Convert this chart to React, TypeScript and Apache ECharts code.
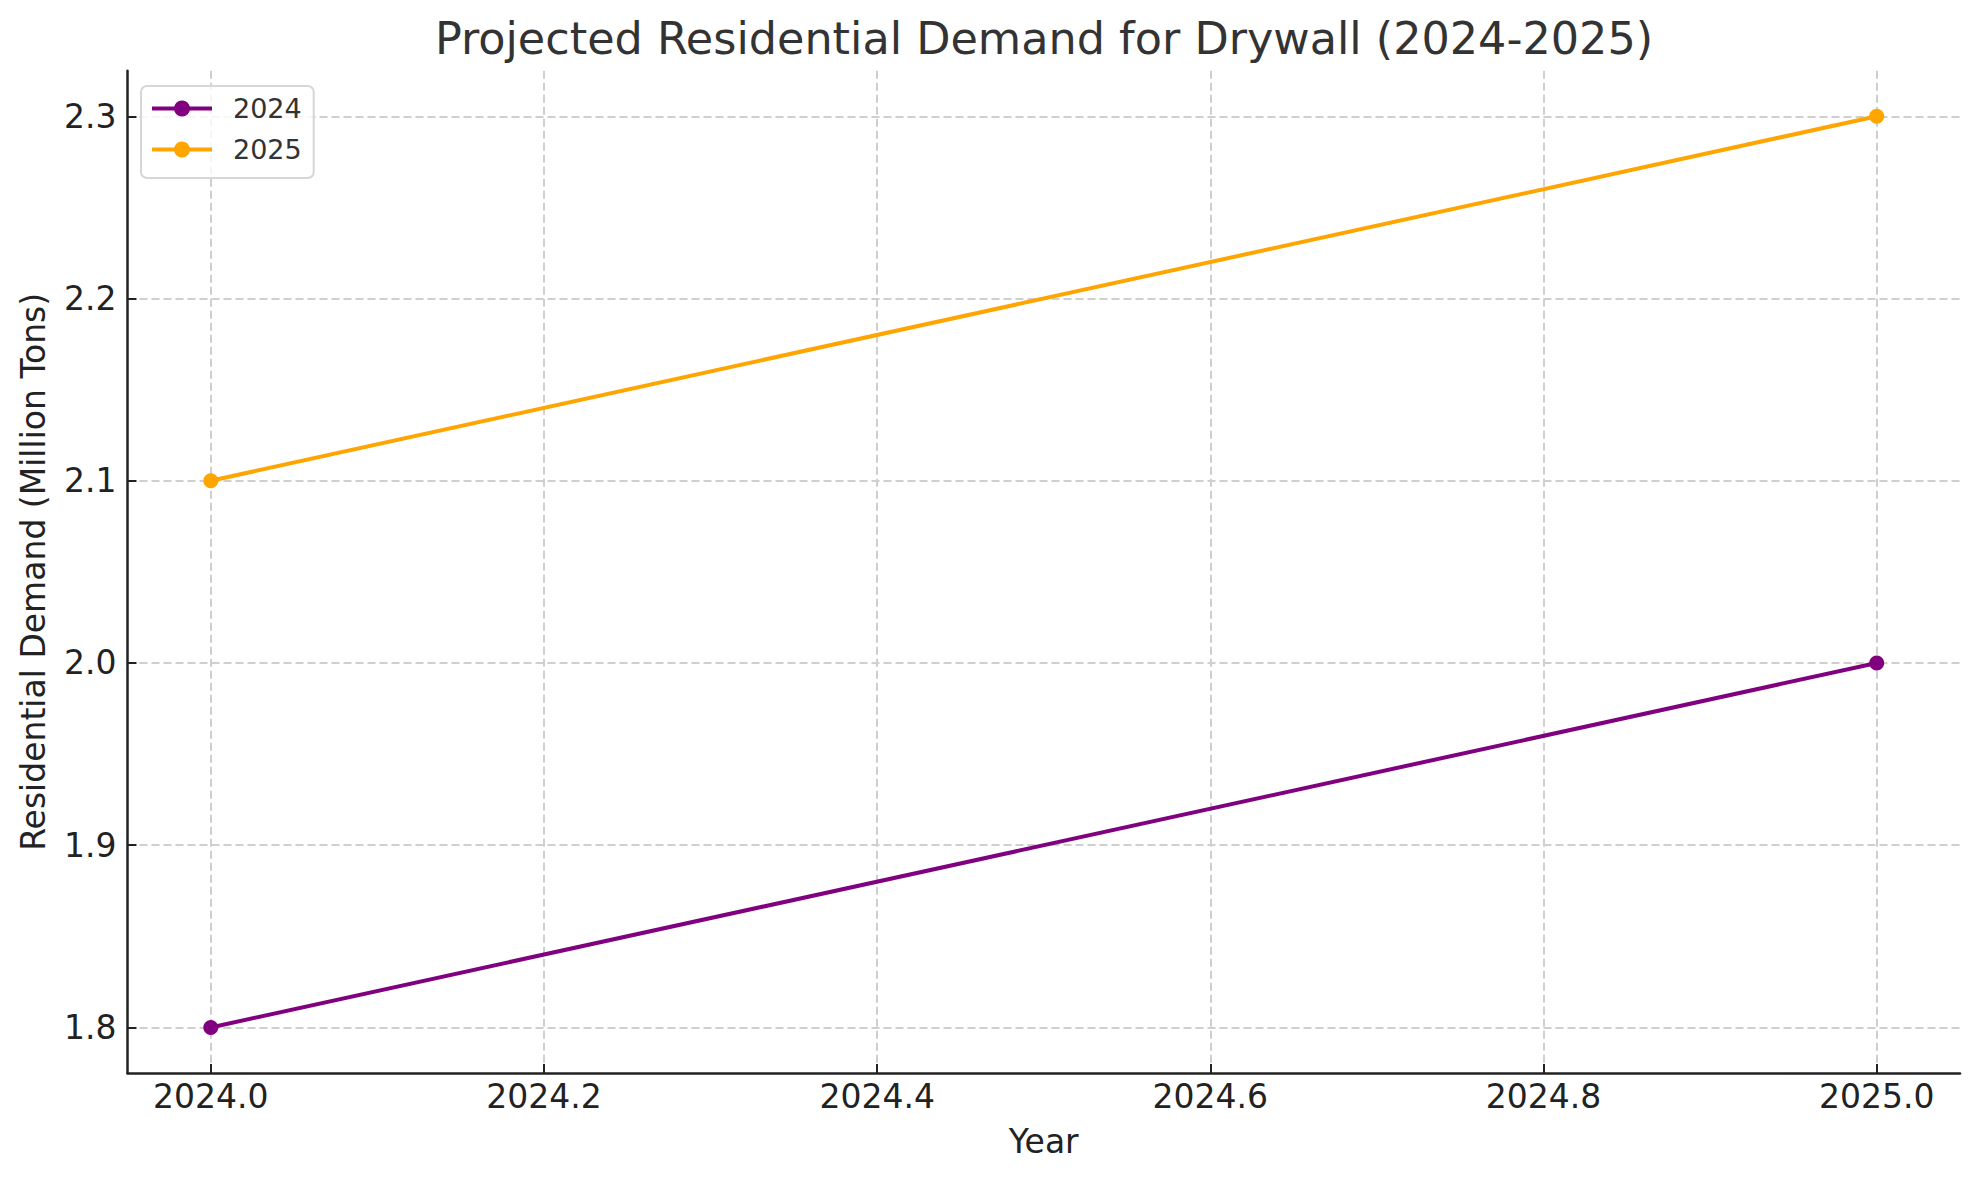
import React, { useEffect, useRef } from "react";
import * as echarts from "echarts";

const years = [2024, 2025];
const demand2024 = [1.8, 2.0];
const demand2025 = [2.1, 2.3];
const seriesNames = ["2024", "2025"];
const xTicks = [2024.0, 2024.2, 2024.4, 2024.6, 2024.8, 2025.0];
const yTicks = [1.8, 1.9, 2.0, 2.1, 2.2, 2.3];

const FONT = "DejaVu Sans";

export default function App() {
  const ref = useRef<HTMLDivElement>(null);
  useEffect(() => {
    document.body.style.margin = "0";
    if (!ref.current) return;
    const chart = echarts.init(ref.current, null, { renderer: "svg" });
    const axisColor = "#222222";
    const gridLine = { show: true, lineStyle: { type: [8, 4], color: "#cfcfcf", width: 2 } };
    chart.setOption({
      animation: false,
      backgroundColor: "#ffffff",
      title: {
        text: "Projected Residential Demand for Drywall (2024-2025)",
        left: 1039,
        textAlign: "center",
        top: 11,
        textStyle: { fontFamily: FONT, fontSize: 44.5, fontWeight: "normal", color: "#333333" },
      },
      legend: {
        orient: "vertical",
        left: 141,
        top: 86,
        itemWidth: 60,
        itemHeight: 20,
        itemGap: 14,
        padding: [9, 12, 15, 9],
        borderColor: "#d6d6d6",
        borderWidth: 2,
        borderRadius: 6,
        backgroundColor: "rgba(255,255,255,0.8)",
        data: seriesNames,
        lineStyle: { width: 4 },
        textStyle: { fontFamily: FONT, fontSize: 27, color: "#333333", padding: [0, 0, 0, 16] },
      },
      grid: { left: 127.5, right: 19, top: 70.7, bottom: 107, containLabel: false },
      xAxis: {
        type: "value",
        min: 2023.95,
        max: 2025.05,
        name: "Year",
        nameLocation: "middle",
        nameGap: 52,
        nameTextStyle: { fontFamily: FONT, fontSize: 33, color: axisColor },
        axisLine: { show: true, onZero: false, lineStyle: { color: axisColor, width: 2.5 } },
        axisTick: { show: true, inside: true, length: 9, customValues: xTicks, lineStyle: { color: axisColor, width: 2 } },
        axisLabel: {
          customValues: xTicks,
          formatter: (v: number) => v.toFixed(1),
          fontFamily: FONT,
          fontSize: 33,
          color: axisColor,
          margin: 7,
        },
        splitLine: gridLine,
      },
      yAxis: {
        type: "value",
        min: 1.775,
        max: 2.325,
        name: "Residential Demand (Million Tons)",
        nameLocation: "middle",
        nameGap: 78,
        nameTextStyle: { fontFamily: FONT, fontSize: 33, color: axisColor },
        axisLine: { show: true, onZero: false, lineStyle: { color: axisColor, width: 2.5 } },
        axisTick: { show: true, inside: true, length: 9, customValues: yTicks, lineStyle: { color: axisColor, width: 2 } },
        axisLabel: {
          customValues: yTicks,
          formatter: (v: number) => v.toFixed(1),
          fontFamily: FONT,
          fontSize: 33,
          color: axisColor,
          margin: 11,
        },
        splitLine: gridLine,
      },
      series: [
        {
          name: seriesNames[0],
          type: "line",
          data: years.map((y, i) => [y, demand2024[i]]),
          symbol: "circle",
          symbolSize: 15,
          lineStyle: { color: "#800080", width: 4 },
          itemStyle: { color: "#800080" },
        },
        {
          name: seriesNames[1],
          type: "line",
          data: years.map((y, i) => [y, demand2025[i]]),
          symbol: "circle",
          symbolSize: 15,
          lineStyle: { color: "#FFA500", width: 4 },
          itemStyle: { color: "#FFA500" },
        },
      ],
    });
    return () => chart.dispose();
  }, []);
  return <div ref={ref} style={{ width: 1979, height: 1180 }} />;
}
